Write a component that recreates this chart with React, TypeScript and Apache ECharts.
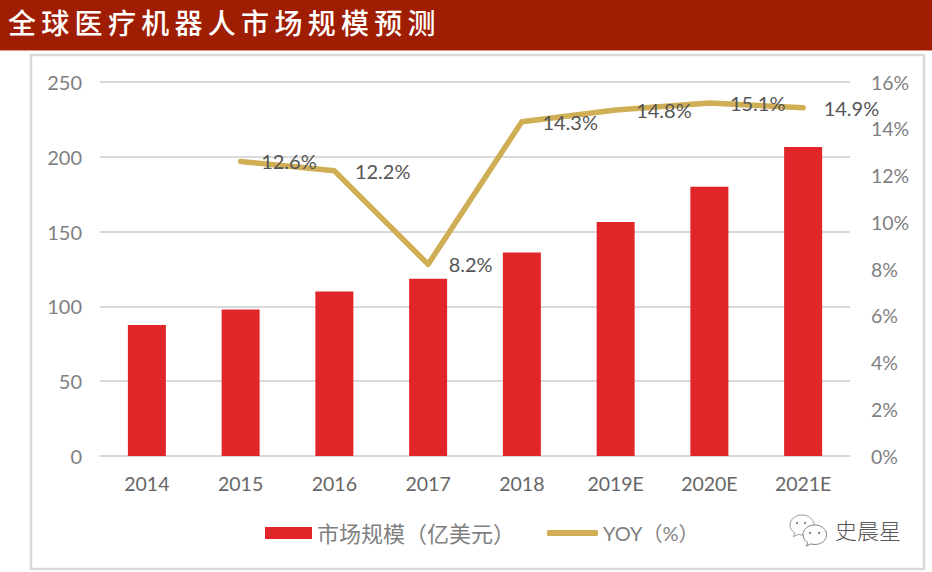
import React, { useEffect, useRef } from "react";
import * as echarts from "echarts";

const titleText = "全球医疗机器人市场规模预测";
const categories = ["2014", "2015", "2016", "2017", "2018", "2019E", "2020E", "2021E"];
const marketSize = [87.5, 98, 110, 118.5, 136, 156.5, 180, 206.5];
const yoy: (number | null)[] = [null, 12.6, 12.2, 8.2, 14.3, 14.8, 15.1, 14.9];
const barName = "市场规模（亿美元）";
const lineName = "YOY（%）";
const watermark = "史晨星";

const LATIN = 'Lato, "Noto Sans CJK SC", sans-serif';
const CJK = '"Noto Sans CJK SC", sans-serif';
const bubbleBig =
  "M14 0C6 0 0 5.500 0 12.500C0 16.500 2 20 5.500 22.300L4 27L9.500 24.200C11 24.700 12.500 25 14 25C22 25 28 19.500 28 12.500C28 5.500 22 0 14 0Z";

echarts.graphic.registerShape("wechatBubble", echarts.graphic.extendPath(bubbleBig, {}) as any);

export default function App() {
  const ref = useRef<HTMLDivElement>(null);
  useEffect(() => {
    if (!ref.current) return;
    const chart = echarts.init(ref.current, undefined, { renderer: "svg" });
    chart.setOption({
      animation: false,
      backgroundColor: "#ffffff",
      title: {
        text: titleText,
        left: 8,
        top: 7,
        padding: 0,
        textStyle: { color: "#ffffff", fontFamily: CJK, fontSize: 28, fontWeight: 500, lineHeight: 30 },
      },
      graphic: [
        { type: "rect", z: -1, silent: true, shape: { x: 0, y: 0, width: 932, height: 50 }, style: { fill: "#9f1d02" } },
        { type: "rect", z: -1, silent: true, shape: { x: 0, y: 50, width: 932, height: 1 }, style: { fill: "#dd9a88" } },
        { type: "rect", z: -1, silent: true, shape: { x: 31, y: 55, width: 893, height: 514 }, style: { fill: "#ffffff", stroke: "#d9d9d9", lineWidth: 2.5 } },
        { type: "wechatBubble", x: 790, y: 515, scaleX: 0.86, scaleY: 0.8, style: { fill: "#ffffff", stroke: "#888888", lineWidth: 1 } },
        { type: "circle", shape: { cx: 797, cy: 523, r: 1 }, style: { fill: "#777777" } },
        { type: "circle", shape: { cx: 805, cy: 523, r: 1 }, style: { fill: "#777777" } },
        { type: "wechatBubble", x: 803, y: 525, scaleX: 0.84, scaleY: 0.78, style: { fill: "#ffffff", stroke: "#666666", lineWidth: 1 } },
        { type: "circle", shape: { cx: 810, cy: 533, r: 1 }, style: { fill: "#666666" } },
        { type: "circle", shape: { cx: 819, cy: 533, r: 1 }, style: { fill: "#666666" } },
        { type: "text", x: 835, y: 518, style: { text: watermark, fill: "#555555", fontFamily: CJK, fontSize: 22, fontWeight: 300 } },
      ],
      legend: [
        {
          left: 265,
          top: 522,
          padding: 0,
          itemWidth: 47,
          itemHeight: 12,
          textStyle: { color: "#7f7f7f", fontFamily: LATIN, fontSize: 22 },
          data: [{ name: barName, icon: "rect" }],
        },
        {
          left: 547,
          top: 523,
          padding: 0,
          itemWidth: 51,
          itemHeight: 6,
          textStyle: { color: "#7f7f7f", fontFamily: LATIN, fontSize: 20 },
          data: [{ name: lineName, icon: "roundRect" }],
        },
      ],
      grid: { left: 100, right: 82, top: 82, bottom: 116 },
      xAxis: {
        type: "category",
        data: categories,
        axisLine: { lineStyle: { color: "#d9d9d9", width: 2 } },
        axisTick: { show: false },
        axisLabel: { color: "#666666", fontFamily: LATIN, fontSize: 19.5, margin: 18 },
      },
      yAxis: [
        {
          type: "value",
          min: 0,
          max: 250,
          interval: 50,
          axisLine: { show: false },
          axisTick: { show: false },
          axisLabel: { color: "#7f7f7f", fontFamily: LATIN, fontSize: 20, margin: 18, padding: [0, 0, 3, 0] },
          splitLine: { lineStyle: { color: "#d9d9d9", width: 2 } },
        },
        {
          type: "value",
          min: 0,
          max: 16,
          interval: 2,
          position: "right",
          axisLine: { show: false },
          axisTick: { show: false },
          axisLabel: { color: "#7f7f7f", fontFamily: LATIN, fontSize: 19.5, margin: 21, padding: [0, 0, 3, 0], formatter: "{value}%" },
          splitLine: { show: false },
        },
      ],
      series: [
        {
          name: barName,
          type: "bar",
          data: marketSize,
          barWidth: 38,
          itemStyle: { color: "#e02629" },
        },
        {
          name: lineName,
          type: "line",
          yAxisIndex: 1,
          data: yoy,
          symbol: "circle",
          symbolSize: 1,
          showSymbol: true,
          showAllSymbol: true,
          connectNulls: false,
          lineStyle: { color: "#cfae55", width: 5.5, cap: "round", join: "round" },
          itemStyle: { color: "#cfae55" },
          label: {
            show: true,
            position: "right",
            distance: 20,
            color: "#555555",
            fontFamily: LATIN,
            fontSize: 20,
            padding: [0, 0, 2, 0],
            formatter: (p: any) => `${p.value}%`,
          },
        },
      ],
    });
    return () => chart.dispose();
  }, []);
  return (
    <>
      <style>{`#chart svg text[fill="#ffffff"], #chart svg text[fill="#fff"] { letter-spacing: 5.3px; }`}</style>
      <div id="chart" ref={ref} style={{ position: "fixed", left: 0, top: 0, width: 932, height: 572 }} />
    </>
  );
}
